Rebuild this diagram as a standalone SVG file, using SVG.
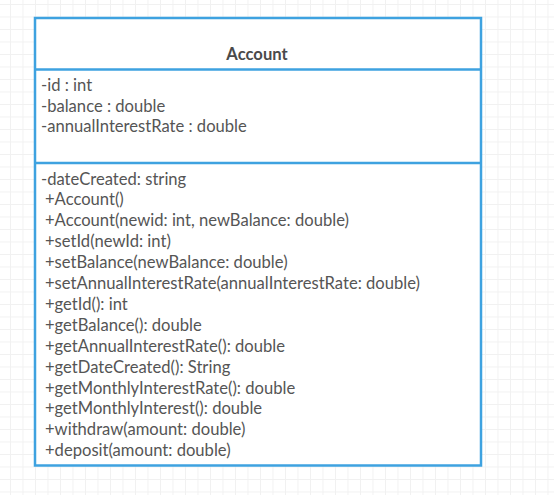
<svg xmlns="http://www.w3.org/2000/svg" width="554" height="495" viewBox="0 0 554 495">
<defs>
<pattern id="grid" x="10" y="4" width="12.5" height="12.5" patternUnits="userSpaceOnUse">
<path d="M0.5 0V12.5M0 0.5H12.5" fill="none" stroke="#f1f1f1" stroke-width="1"/>
</pattern>
<style>
.t{font-family:Lato,"Liberation Sans",sans-serif;font-size:16.6px;fill:#555}
.b{font-family:Lato,"Liberation Sans",sans-serif;font-size:16.6px;font-weight:bold;fill:#4a4a4a}
.box{fill:#fff;stroke:#3ea2e0;stroke-width:2.5}
.sep{stroke:#3ea2e0;stroke-width:2.5}
</style>
</defs>
<rect width="554" height="495" fill="#fff"/>
<rect width="554" height="495" fill="url(#grid)"/>
<g id="connectors"/>
<g id="account">
<rect class="box" x="35" y="18" width="446" height="447.5"/>
<line class="sep" x1="35" y1="69.5" x2="481" y2="69.5"/>
<line class="sep" x1="35" y1="163" x2="481" y2="163"/>
<text class="b" x="257" y="59.5" text-anchor="middle">Account</text>
<text class="t" x="41" y="91">-id : int</text>
<text class="t" x="41" y="111.7">-balance : double</text>
<text class="t" x="41" y="132.4">-annualInterestRate : double</text>
<text class="t" x="41" y="184.5">-dateCreated: string</text>
<text class="t" x="45" y="205.4">+Account()</text>
<text class="t" x="45" y="226.3">+Account(newid: int, newBalance: double)</text>
<text class="t" x="45" y="247.2">+setId(newId: int)</text>
<text class="t" x="45" y="268.1">+setBalance(newBalance: double)</text>
<text class="t" x="45" y="289">+setAnnualInterestRate(annualInterestRate: double)</text>
<text class="t" x="45" y="309.9">+getId(): int</text>
<text class="t" x="45" y="330.8">+getBalance(): double</text>
<text class="t" x="45" y="351.7">+getAnnualInterestRate(): double</text>
<text class="t" x="45" y="372.6">+getDateCreated(): String</text>
<text class="t" x="45" y="393.5">+getMonthlyInterestRate(): double</text>
<text class="t" x="45" y="414.4">+getMonthlyInterest(): double</text>
<text class="t" x="45" y="435.3">+withdraw(amount: double)</text>
<text class="t" x="45" y="456.2">+deposit(amount: double)</text>
</g>
</svg>
